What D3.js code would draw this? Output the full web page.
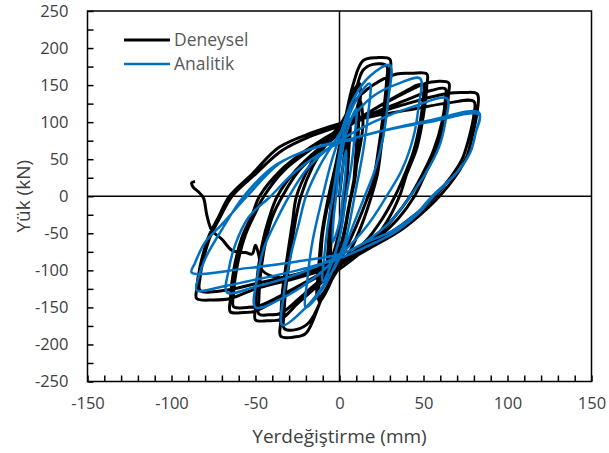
<!DOCTYPE html>
<html><head><meta charset="utf-8">
<script src="https://cdn.jsdelivr.net/npm/d3@7"></script>
<style>body{margin:0;background:#fff;}svg{display:block;}</style>
</head><body>
<svg id="chart" width="609" height="453"></svg>
<script>
const xTicks = [-150, -100, -50, 0, 50, 100, 150];
const yTicks = [-250, -200, -150, -100, -50, 0, 50, 100, 150, 200, 250];
const xMinorStep = 10;
const yMinorStep = 25;
const seriesNames = ["Deneysel", "Analitik"];
const xTitle = "Yerdeğiştirme (mm)";
const yTitle = "Yük (kN)";

// Experimental (Deneysel) hysteresis path: [displacement mm, load kN]
const deneysel = [
  [0,0],[2,40],[5,90],
  [4.5,50],[3,0],[0,-45],[-5,-85],
  [-4.5,-40],[-3,0],[0,50],[4,95],[6,100],
  [5.5,60],[4,10],[1,-40],[-3,-80],[-7,-100],
  [-6.5,-60],[-5,-10],[-1,50],[4,105],[8,140],[12,152],
  [11.5,110],[10.7,60],[9,20],[7,0],[3,-50],[0,-85],[-6,-120],[-12,-142],
  [-11.5,-100],[-10,-50],[-6,0],[-2,45],[3,100],[8,140],[12,148],
  [11,100],[9.5,50],[8,10],[6,-10],[2,-55],[-2,-90],[-8,-125],[-13,-138],
  [-12.5,-100],[-10.5,-50],[-6.5,0],[-2,45],[3,100],[8,150],[14,183],[22,187],[30,185],
  [30,165],[28,120],[25,70],[22.6,30],[19,0],[13,-40],[6,-75],[0,-95],[-10,-135],[-20,-185],[-27,-190],[-35,-189],
  [-35,-170],[-34,-130],[-31,-80],[-28,-35],[-25.6,0],[-18,40],[-10,70],[0,95],[8,130],[14,170],[20,178],[28,176],
  [28,155],[26,110],[23,60],[20,20],[17,0],[10,-40],[4,-70],[0,-88],[-8,-125],[-18,-170],[-26,-180],[-33,-178],
  [-33,-160],[-32,-125],[-29,-75],[-26,-30],[-23,0],[-16,40],[-8,70],[0,92],[8,125],[20,150],[34,165],[43,166],[52,165],
  [52,150],[50,110],[46,65],[40,30],[35.7,0],[28,-35],[18,-65],[5,-90],[-10,-115],[-25,-145],[-35,-166],[-43,-168],[-50,-167],
  [-50,-150],[-49,-110],[-46,-65],[-42,-30],[-37,0],[-26,35],[-12,65],[0,85],[12,105],[30,130],[42,145],[46,150],[50,150],
  [50,135],[48,100],[44,60],[38,25],[33,0],[25,-32],[15,-62],[3,-85],[-10,-110],[-25,-140],[-35,-158],[-42,-160],[-48,-159],
  [-48,-140],[-47,-105],[-44,-62],[-40,-28],[-34,0],[-24,35],[-10,65],[0,85],[15,110],[35,135],[52,153],[58,155],[65,153],
  [65,140],[63,105],[58,65],[51,30],[44.6,0],[35,-30],[22,-58],[8,-82],[-10,-105],[-30,-130],[-50,-155],[-57,-157],[-65,-156],
  [-65,-140],[-63,-100],[-58,-55],[-52,-25],[-47.6,0],[-35,35],[-18,65],[0,90],[20,112],[40,130],[55,143],[63,145],
  [63,130],[61,100],[56,62],[49,28],[42,0],[32,-30],[20,-58],[6,-82],[-10,-103],[-30,-128],[-48,-148],[-55,-150],[-63,-149],
  [-63,-130],[-61,-95],[-56,-52],[-50,-22],[-45,0],[-33,35],[-16,65],[0,90],[20,110],[45,128],[65,139],[74,140],[82,138],
  [82,115],[79,80],[76,55],[70,30],[59.5,0],[48,-25],[35,-48],[18,-70],[0,-92],[-25,-110],[-50,-125],[-65,-138],[-75,-140],[-85,-138],
  [-85,-125],[-83,-95],[-78,-55],[-72,-28],[-65.5,0],[-52,30],[-36,66],[-16,86],[0,98],[20,108],[45,118],[65,126],[80,128],
  [80,110],[77,78],[73,50],[66,25],[57,0],[45,-25],[30,-50],[15,-70],[0,-88],[-25,-105],[-50,-118],[-68,-127],[-83,-127],
  [-83,-110],[-81,-85],[-77,-55],[-71,-28],[-64,0],[-50,30],[-34,62],[-16,82],[0,95],[8,103],
  [12,130],[14,100],[10,40],[5,-20],[0,-70],[-15,-100],[-35,-110],[-46,-100],[-48,-80],[-50,-66],[-52,-78],[-56,-76],
  [-64,-73],[-70,-58],[-76,-46],[-79,-25],[-81,-2],[-84,6],[-87,12],[-88,18],[-86,20]
];

// Analytical (Analitik) hysteresis path: [displacement mm, load kN]
const analitik = [
  [0,0],[2,40],[4,62],
  [3.5,30],[2,0],[0,-35],[-4,-62],
  [-3.5,-30],[-2,0],[0,40],[4,85],[10,118],
  [9,80],[7,40],[4,0],[1,-45],[-3,-80],[-10,-115],
  [-9,-80],[-7,-40],[-4,0],[-1,45],[3,90],[10,130],[18,152],
  [17,110],[14,60],[9,0],[4,-55],[-2,-90],[-10,-125],[-20,-150],
  [-19,-110],[-16,-60],[-10,0],[-5,45],[0,80],[8,130],[18,162],[30,177],
  [29,130],[26,80],[21,35],[15,0],[8,-40],[2,-75],[-8,-115],[-20,-150],[-34,-174],
  [-33,-130],[-29,-80],[-24,-35],[-20,0],[-12,40],[-4,70],[5,100],[20,135],[35,152],[48,159],
  [47,120],[44,80],[37,35],[28,0],[18,-35],[8,-62],[0,-80],[-15,-110],[-32,-135],[-50,-150],
  [-49,-110],[-45,-70],[-37,-30],[-30,0],[-20,35],[-8,62],[0,75],[20,100],[45,122],[64,132],
  [63,100],[59,65],[51,30],[42,0],[30,-35],[15,-62],[0,-80],[-25,-105],[-50,-122],[-67,-130],
  [-66,-100],[-62,-65],[-54,-28],[-41,0],[-28,30],[-12,57],[0,72],[25,88],[55,103],[83,113],
  [81,85],[78,60],[71,35],[56,0],[46,-25],[32,-50],[16,-68],[2,-82],[-25,-100],[-55,-115],[-70,-122],[-85,-127],
  [-84,-110],[-79,-80],[-70,-45],[-57,0],[-38,42],[-18,63],[-2,72],[25,88],[55,101],[83,110],
  [81,85],[78,60],[71,35],[55,0],[46,-23],[32,-46],[16,-62],[2,-77],[-25,-88],[-55,-97],[-88,-103],
  [-86,-90],[-80,-62],[-70,-38],[-55,0],[-36,44],[-16,65],[-2,73],[10,76]
];

const colors = {Deneysel: "#000000", Analitik: "#0070C0"};
const font = "'Open Sans', 'Noto Sans', sans-serif";

const svg = d3.select("#chart");
const m = {left: 87.5, top: 11, right: 609 - 591.5, bottom: 453 - 381.5};
const W = 609 - m.left - m.right, H = 453 - m.top - m.bottom;
const x = d3.scaleLinear().domain([-150, 150]).range([m.left, m.left + W]);
const y = d3.scaleLinear().domain([-250, 250]).range([m.top + H, m.top]);

// zero lines
svg.append("line").attr("x1", x(0)).attr("x2", x(0)).attr("y1", y(250)).attr("y2", y(-250))
  .attr("stroke", "#000").attr("stroke-width", 1.5);
svg.append("line").attr("x1", x(-150)).attr("x2", x(150)).attr("y1", y(0)).attr("y2", y(0))
  .attr("stroke", "#000").attr("stroke-width", 1.5);

const line = d3.line().x(d => x(d[0])).y(d => y(d[1])).curve(d3.curveCatmullRom.alpha(0.5));

svg.append("path").datum(deneysel).attr("d", line).attr("fill", "none")
  .attr("stroke", colors.Deneysel).attr("stroke-width", 3).attr("stroke-linejoin", "round");
svg.append("path").datum(analitik).attr("d", line).attr("fill", "none")
  .attr("stroke", colors.Analitik).attr("stroke-width", 2.5).attr("stroke-linejoin", "round");

// frame
svg.append("rect").attr("x", m.left).attr("y", m.top).attr("width", W).attr("height", H)
  .attr("fill", "none").attr("stroke", "#000").attr("stroke-width", 1.5);

// axes
const xMinor = d3.range(-150, 150.1, xMinorStep);
const yMinor = d3.range(-250, 250.1, yMinorStep);
const xAxis = d3.axisBottom(x).tickValues(xMinor).tickSize(-6).tickFormat(d => xTicks.includes(d) ? d : "").tickPadding(16);
const yAxis = d3.axisLeft(y).tickValues(yMinor).tickSize(-6).tickFormat(d => yTicks.includes(d) ? d : "").tickPadding(18);

const gx = svg.append("g").attr("transform", `translate(0,${m.top + H})`).call(xAxis);
const gy = svg.append("g").attr("transform", `translate(${m.left},0)`).call(yAxis);
[gx, gy].forEach(g => {
  g.select(".domain").remove();
  g.selectAll(".tick line").attr("stroke", "#000").attr("stroke-width", 1.5);
  g.selectAll(".tick text").attr("fill", "#404040").style("font-family", font).style("font-size", "16.5px");
});
gy.selectAll(".tick text").attr("x", -19);

svg.append("text").attr("x", x(0)).attr("y", 443).attr("text-anchor", "middle")
  .attr("fill", "#404040").style("font-family", font).style("font-size", "19px").text(xTitle);
svg.append("text").attr("transform", `translate(30,${y(0)}) rotate(-90)`).attr("text-anchor", "middle")
  .attr("fill", "#404040").style("font-family", font).style("font-size", "19px").text(yTitle);

// legend
const lg = svg.append("g");
seriesNames.forEach((n, i) => {
  const yy = 40 + i * 24;
  lg.append("line").attr("x1", 124).attr("x2", 170).attr("y1", yy).attr("y2", yy)
    .attr("stroke", colors[n]).attr("stroke-width", n === "Deneysel" ? 3 : 2.5);
  lg.append("text").attr("x", 174).attr("y", yy + 6).attr("fill", "#595959")
    .style("font-family", font).style("font-size", "17.5px").text(n);
});
</script>
</body></html>
